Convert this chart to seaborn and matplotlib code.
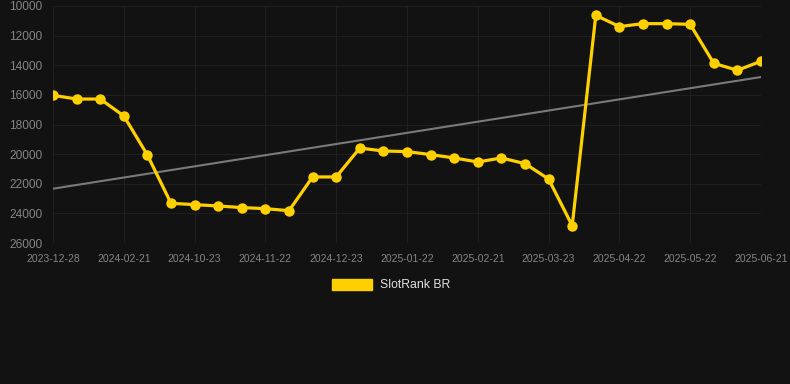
import numpy as np
import pandas as pd
import matplotlib
matplotlib.use("Agg")
import matplotlib.pyplot as plt
import seaborn as sns
from matplotlib.patches import Patch

# Fechas (eje x categórico) y ranking
fechas = ['2023-12-28', '2024-01-15', '2024-02-02', '2024-02-21', '2024-06-15', '2024-09-20',
          '2024-10-23', '2024-11-02', '2024-11-12', '2024-11-22', '2024-12-02', '2024-12-12',
          '2024-12-23', '2025-01-02', '2025-01-12', '2025-01-22', '2025-02-01', '2025-02-11',
          '2025-02-21', '2025-03-03', '2025-03-13', '2025-03-23', '2025-04-02', '2025-04-12',
          '2025-04-22', '2025-05-02', '2025-05-12', '2025-05-22', '2025-06-01', '2025-06-11',
          '2025-06-21']
ranking = [16030, 16280, 16280, 17420, 20060, 23320, 23410, 23500, 23610, 23680, 23820,
           21540, 21540, 19590, 19790, 19830, 20030, 20260, 20530, 20260, 20640, 21680,
           24830, 10630, 11390, 11190, 11190, 11240, 13870, 14340, 13730]
yticks = [10000, 12000, 14000, 16000, 18000, 20000, 22000, 24000, 26000]

df = pd.DataFrame({'idx': np.arange(len(fechas)), 'fecha': fechas, 'rank': ranking})

# Línea de tendencia (regresión lineal)
pend, inter = np.polyfit(df['idx'], df['rank'], 1)
tendencia = inter + pend * df['idx']

fondo = '#121212'
amarillo = '#FFD000'

sns.set_style("dark")
plt.rcParams['font.family'] = ['Liberation Sans', 'DejaVu Sans']

fig = plt.figure(figsize=(7.9, 3.84), dpi=100, facecolor=fondo)
ax = fig.add_axes([53 / 790, 1 - 243 / 384, 708 / 790, 237 / 384])
ax.set_facecolor(fondo)

ax.plot(df['idx'], tendencia, color='#7a7a7a', linewidth=1.5, zorder=2)
sns.lineplot(data=df, x='idx', y='rank', ax=ax, color=amarillo, linewidth=2.3,
             marker='o', markersize=7.5, markeredgewidth=0, zorder=3)

ax.set_ylim(26000, 10000)
ax.set_xlim(0, len(fechas) - 1)
ax.set_yticks(yticks)
ax.set_yticklabels([str(v) for v in yticks])
pos = df['idx'][::3]
ax.set_xticks(pos)
ax.set_xticklabels(df['fecha'][::3])

ax.grid(True, color='#1f1f1f', linewidth=0.8)
ax.axhline(26000, color='#2a2a2a', linewidth=0.8, zorder=1)
ax.tick_params(axis='y', colors='#858585', labelsize=8.6, length=0, pad=7.5)
ax.tick_params(axis='x', colors='#858585', labelsize=7.5, length=0, pad=8)
for s in ax.spines.values():
    s.set_visible(False)
ax.set_xlabel('')
ax.set_ylabel('')

fig.legend(handles=[Patch(facecolor=amarillo, edgecolor=amarillo, label='SlotRank BR')],
           loc='center', bbox_to_anchor=(391 / 790, 1 - 285 / 384), frameon=False,
           fontsize=8.8, labelcolor='#e0e0e0', handlelength=3.3, handleheight=1.0,
           handletextpad=0.6)

fig.savefig('out.png', dpi=100, facecolor=fondo)
